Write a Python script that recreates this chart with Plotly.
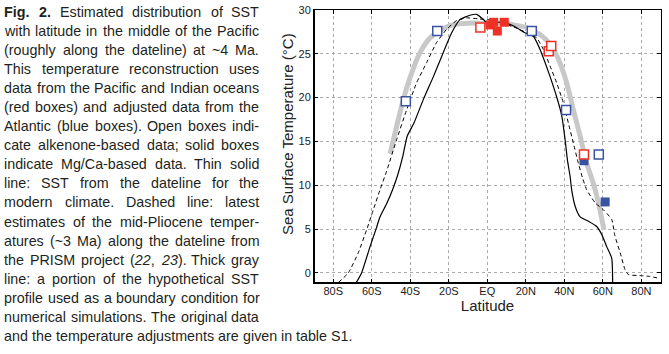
import re
import plotly.graph_objects as go

# ---------------- data ----------------
modern_lat = [-68.2, -65.3, -60.9, -57.8, -55.7, -52.3, -49.2, -46.5, -43.9, -41.6, -38.1, -33.2,
              -28.0, -23.7, -18.5, -14.2, -9.0, -5.5, -2.0, 0.5, 3.0, 5.0, 8.3, 13.5, 19.6, 23.9,
              27.4, 30.0, 32.6, 36.0, 38.7, 40.4, 41.6, 43.0, 43.8, 45.6, 48.2, 52.5, 56.8, 59.4,
              62.0, 64.6, 65.1]
modern_sst = [-1.15, 0.0, 3.0, 5.0, 6.4, 7.9, 9.5, 11.2, 13.3, 15.6, 17.1, 19.8,
              22.4, 24.7, 27.4, 28.9, 29.4, 29.5, 28.9, 28.4, 28.5, 28.6, 28.6, 28.2, 27.4, 27.0,
              25.5, 24.0, 22.4, 20.1, 17.9, 15.2, 12.9, 11.0, 9.5, 7.6, 6.4, 5.9, 5.3, 4.4,
              3.0, 1.7, -1.15]

plio_lat = [-77.4, -72.2, -67.0, -62.7, -59.2, -55.7, -52.3, -47.1, -41.9, -36.7, -31.5, -26.3,
            -21.1, -15.9, -10.7, -5.0, 0.0, 5.0, 8.3, 14.4, 20.5, 25.7, 29.1, 32.6, 36.0, 39.5,
            42.1, 44.7, 47.3, 49.5, 51.6, 56.0, 60.3, 64.6, 66.3, 69.0, 71.5, 73.3, 79.3, 84.5, 88.8]
plio_sst = [-1.1, 0.0, 2.3, 4.9, 7.2, 9.5, 11.6, 15.2, 18.6, 21.7, 24.0, 26.3,
            27.8, 28.8, 29.1, 29.0, 28.9, 28.8, 28.5, 28.0, 27.4, 26.8, 25.5, 23.6, 21.7, 19.4,
            17.1, 14.8, 12.5, 10.8, 9.5, 8.0, 7.2, 6.1, 4.2, 2.3, 0.4, -0.2, -0.3, -0.4, -0.6]

hypo_lat = [-50.5, -47.1, -43.6, -39.3, -35.0, -29.8, -22.9, -15.9, -10.0, 0.0, 10.0, 13.5,
            20.5, 27.4, 32.6, 36.9, 41.2, 44.7, 48.2, 51.6, 53.6, 56.0, 58.5, 60.6]
hypo_sst = [13.6, 16.7, 19.8, 22.8, 25.1, 26.8, 27.9, 28.4, 28.5, 28.5, 28.5, 28.3,
            28.0, 27.2, 26.1, 24.4, 21.7, 18.6, 15.6, 12.5, 11.2, 9.5, 7.2, 4.9]

blue_open_lat = [-42.3, -26.0, 23.1, 40.9, 57.9]
blue_open_sst = [19.6, 27.6, 27.6, 18.6, 13.5]
blue_fill_lat = [50.2, 61.2]
blue_fill_sst = [12.8, 8.1]
red_open_lat = [-3.6, 31.9, 33.2, 50.2]
red_open_sst = [28.0, 25.3, 25.9, 13.5]
red_fill_lat = [1.5, 3.3, 5.2, 8.8]
red_fill_sst = [28.3, 28.6, 27.6, 28.6]

x_tickvals = [-80, -60, -40, -20, 0, 20, 40, 60, 80]
x_ticktext = ["80S", "60S", "40S", "20S", "EQ", "20N", "40N", "60N", "80N"]
y_tickvals = [0, 5, 10, 15, 20, 25, 30]

caption_lines = [
    "<b>Fig.</b> <b>2.</b> Estimated distribution of SST",
    "with latitude in the middle of the Pacific",
    "(roughly along the dateline) at ~4 Ma.",
    "This temperature reconstruction uses",
    "data from the Pacific and Indian oceans",
    "(red boxes) and adjusted data from the",
    "Atlantic (blue boxes). Open boxes indi-",
    "cate alkenone-based data; solid boxes",
    "indicate Mg/Ca-based data. Thin solid",
    "line: SST from the dateline for the",
    "modern climate. Dashed line: latest",
    "estimates of the mid-Pliocene temper-",
    "atures (~3 Ma) along the dateline from",
    "the PRISM project (<i>22</i>, <i>23</i>). Thick gray",
    "line: a portion of the hypothetical SST",
    "profile used as a boundary condition for",
    "numerical simulations. The original data",
    "and the temperature adjustments are given in table S1.",
]

# ---------------- layout geometry ----------------
W, H = 669, 354
ML, MR, MT, MB = 314, 8, 10, 71
PW = W - ML - MR
PH = H - MT - MB

RED = "#ee3124"
BLUE = "#3953a4"
GRAY = "#c8c8c8"
AX_FONT = "Arial, Liberation Sans, sans-serif"

fig = go.Figure()

fig.add_trace(go.Scatter(x=hypo_lat, y=hypo_sst, mode="lines",
                         line=dict(color=GRAY, width=5, shape="spline", smoothing=0.6),
                         hoverinfo="skip", showlegend=False))
fig.add_trace(go.Scatter(x=plio_lat, y=plio_sst, mode="lines",
                         line=dict(color="black", width=1, dash="4px,3px", shape="spline", smoothing=0.5),
                         showlegend=False))
fig.add_trace(go.Scatter(x=modern_lat, y=modern_sst, mode="lines",
                         line=dict(color="black", width=1.2, shape="spline", smoothing=0.5),
                         showlegend=False))

MS = 9
fig.add_trace(go.Scatter(x=blue_fill_lat, y=blue_fill_sst, mode="markers",
                         marker=dict(symbol="square", size=MS, color=BLUE, line=dict(width=0)),
                         showlegend=False))
fig.add_trace(go.Scatter(x=red_fill_lat, y=red_fill_sst, mode="markers",
                         marker=dict(symbol="square", size=MS, color=RED, line=dict(width=0)),
                         showlegend=False))
fig.add_trace(go.Scatter(x=red_open_lat, y=red_open_sst, mode="markers",
                         marker=dict(symbol="square", size=MS, color="white", line=dict(width=1.5, color=RED)),
                         showlegend=False))
fig.add_trace(go.Scatter(x=blue_open_lat, y=blue_open_sst, mode="markers",
                         marker=dict(symbol="square", size=MS, color="white", line=dict(width=1.5, color=BLUE)),
                         showlegend=False))

axis_common = dict(
    showline=True, linecolor="black", linewidth=1, mirror="ticks",
    ticks="inside", ticklen=4, tickcolor="black", tickwidth=1,
    showgrid=True, gridcolor="#aaaaaa", gridwidth=1, griddash="dot",
    zeroline=False, tickfont=dict(family=AX_FONT, size=11, color="#222"),
)

fig.update_xaxes(range=[-90, 90.2], tickvals=x_tickvals, ticktext=x_ticktext,
                 ticklabelstandoff=-2,
                 title=dict(text="Latitude", standoff=0,
                            font=dict(family=AX_FONT, size=15, color="#222")),
                 **axis_common)
fig.update_yaxes(range=[-1.15, 30], tickvals=y_tickvals, **axis_common)

# y-axis title (placed as in the reference, slightly above the axis centre)
fig.add_annotation(text="Sea Surface Temperature (°C)", textangle=-90,
                   xref="paper", yref="paper",
                   x=(287.5 - ML) / PW, y=(H - MB - 134.5) / PH,
                   xanchor="center", yanchor="middle", showarrow=False,
                   font=dict(family=AX_FONT, size=15, color="#222"))

# thicker left and bottom axis lines
fig.add_shape(type="line", xref="x domain", yref="y domain", x0=0, x1=0, y0=0, y1=1,
              line=dict(color="black", width=2))
fig.add_shape(type="line", xref="x domain", yref="y domain", x0=0, x1=1, y0=0, y1=0,
              line=dict(color="black", width=2))

# ---------------- caption (justified) ----------------
CW = {' ': 278, '(': 333, ')': 333, ',': 278, '-': 333, '.': 278, '/': 278, ':': 278, ';': 278,
      '~': 584, '°': 400}
for d in "0123456789":
    CW[d] = 556
CW.update(dict(A=667, B=667, C=722, D=722, E=667, F=611, G=778, H=722, I=278, J=500, K=667, L=556,
               M=833, N=722, O=778, P=667, Q=778, R=722, S=667, T=611, U=722, V=667, W=944, X=667,
               Y=667, Z=611))
CW.update(dict(a=556, b=556, c=500, d=556, e=556, f=278, g=556, h=556, i=222, j=222, k=500, l=222,
               m=833, n=556, o=556, p=556, q=556, r=333, s=500, t=278, u=556, v=500, w=722, x=500,
               y=500, z=500))
BW = {'F': 611, 'i': 278, 'g': 611, '.': 278, '2': 556}

FS = 14.3
CAP_FONT = "Liberation Sans, Arial, sans-serif"


def word_width(w):
    bold = "<b>" in w
    plain = re.sub(r"<[^>]+>", "", w)
    tot = 0
    for ch in plain:
        tot += (BW.get(ch, CW.get(ch, 556)) if bold else CW.get(ch, 556))
    return tot * FS / 1000.0


X_LEFT, X_RIGHT = 3.3, 258.3
Y0, DY = 11.8, 19.07

for i, line in enumerate(caption_lines):
    py = Y0 + DY * i
    yp = (H - MB - py) / PH
    words = line.split(" ")
    last = i == len(caption_lines) - 1
    widths = [word_width(w) for w in words]
    if last:
        gap = CW[' '] * FS / 1000.0
    else:
        gap = (X_RIGHT - X_LEFT - sum(widths)) / (len(words) - 1)
    xpos = X_LEFT
    for w, ww in zip(words, widths):
        fig.add_annotation(text=w, xref="paper", yref="paper",
                           x=(xpos - ML) / PW, y=yp, xanchor="left", yanchor="middle",
                           showarrow=False, borderpad=0,
                           font=dict(family=CAP_FONT, size=FS, color="#231f20"))
        xpos += ww + gap

fig.update_layout(width=W, height=H, margin=dict(l=ML, r=MR, t=MT, b=MB, autoexpand=False),
                  paper_bgcolor="white", plot_bgcolor="white", showlegend=False)

fig.write_html("out.html")
